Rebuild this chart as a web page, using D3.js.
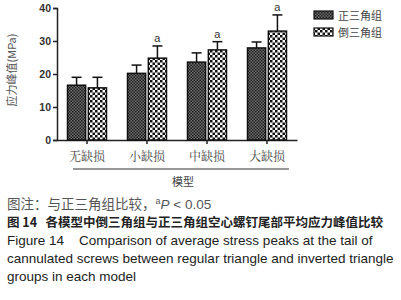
<!DOCTYPE html>
<html><head><meta charset="utf-8">
<script src="https://cdn.jsdelivr.net/npm/d3@7"></script>
<style>body{margin:0;background:#fff;}svg{display:block;}</style>
</head><body>
<script>
const categories = ["无缺损","小缺损","中缺损","大缺损"];
const seriesNames = ["正三角组","倒三角组"];
const regular = [16.6, 20.2, 23.6, 27.9];
const regularErr = [2.4, 2.5, 2.8, 1.8];
const inverted = [15.8, 24.8, 27.3, 33.0];
const invertedErr = [3.2, 3.7, 2.5, 4.9];
const sigMarks = ["", "a", "a", "a"];
const yTicks = [0,10,20,30,40];

const W=401,H=300;
const svg=d3.select("body").append("svg").attr("width",W).attr("height",H);
const defs=svg.append("defs");
const p1=defs.append("pattern").attr("id","pReg").attr("patternUnits","userSpaceOnUse").attr("width",3).attr("height",3);
p1.append("rect").attr("width",3).attr("height",3).attr("fill","#6e6e6e");
p1.append("rect").attr("width",1.5).attr("height",1.5).attr("fill","#1e1e1e");
p1.append("rect").attr("x",1.5).attr("y",1.5).attr("width",1.5).attr("height",1.5).attr("fill","#1e1e1e");
const p2=defs.append("pattern").attr("id","pInv").attr("patternUnits","userSpaceOnUse").attr("width",5).attr("height",5);
p2.append("rect").attr("width",5).attr("height",5).attr("fill","#fff");
p2.append("rect").attr("width",2.5).attr("height",2.5).attr("fill","#111");
p2.append("rect").attr("x",2.5).attr("y",2.5).attr("width",2.5).attr("height",2.5).attr("fill","#111");
const fills=["url(#pReg)","url(#pInv)"];

const x=d3.scaleBand().domain(categories).range([57,297]);
const xs=d3.scaleBand().domain(seriesNames).range([0,39]).paddingInner(0.13);
const y=d3.scaleLinear().domain([0,40]).range([140,8]);

// y axis
const ya=svg.append("g").attr("transform","translate(57,0)")
 .call(d3.axisLeft(y).tickValues(yTicks).tickSize(4).tickPadding(2));
ya.select(".domain").attr("stroke","#222").attr("stroke-width",1.5);
ya.selectAll(".tick line").attr("stroke","#222").attr("stroke-width",1.5);
ya.selectAll("text").attr("font-family","Liberation Sans, Arial").attr("font-weight","bold").attr("font-size",10.5).attr("fill","#333");

// x axis
const xa=svg.append("g").attr("transform","translate(0,140)")
 .call(d3.axisBottom(x).tickSize(4).tickSizeOuter(0).tickFormat(""));
xa.select(".domain").attr("stroke","#222").attr("stroke-width",1.5);
xa.selectAll(".tick line").attr("stroke","#222").attr("stroke-width",1.5);

const data=[regular,inverted], errs=[regularErr,invertedErr];
seriesNames.forEach((s,si)=>{
  categories.forEach((c,ci)=>{
    const bx=x(c)+(x.bandwidth()-39)/2+xs(s), bw=xs.bandwidth();
    const v=data[si][ci], e=errs[si][ci];
    const cx=bx+bw/2;
    svg.append("line").attr("x1",cx).attr("x2",cx).attr("y1",y(v)).attr("y2",y(v+e)).attr("stroke","#111").attr("stroke-width",1.5);
    svg.append("line").attr("x1",cx-5).attr("x2",cx+5).attr("y1",y(v+e)).attr("y2",y(v+e)).attr("stroke","#111").attr("stroke-width",1.5);
    svg.append("rect").attr("x",bx).attr("y",y(v)).attr("width",bw).attr("height",y(0)-y(v))
      .attr("fill",fills[si]).attr("stroke","#111").attr("stroke-width",1.5);
    if(si===1 && sigMarks[ci]){
      svg.append("text").attr("x",cx).attr("y",y(v+e)-4).attr("text-anchor","middle")
        .attr("font-family","Liberation Sans, Arial").attr("font-size",11).attr("fill","#333").text(sigMarks[ci]);
    }
  });
});

// category labels
categories.forEach(c=>{
  svg.append("text").attr("x",x(c)+x.bandwidth()/2).attr("y",161).attr("text-anchor","middle")
   .attr("font-family","Noto Serif CJK SC, Noto Sans CJK SC").attr("font-size",12).attr("fill","#444").text(c);
});
svg.append("line").attr("x1",73).attr("x2",289).attr("y1",169).attr("y2",169).attr("stroke","#333").attr("stroke-width",1.2);
svg.append("text").attr("x",183).attr("y",186).attr("text-anchor","middle")
 .attr("font-family","Noto Sans CJK SC").attr("font-size",11).attr("fill","#444").text("模型");

// y label
svg.append("text").attr("transform","translate(16,70) rotate(-90)").attr("text-anchor","middle")
 .attr("font-family","Noto Sans CJK SC").attr("font-size",11).attr("fill","#555").text("应力峰值(MPa)");

// legend
seriesNames.forEach((s,i)=>{
  const ly=11+i*17;
  svg.append("rect").attr("x",314).attr("y",ly).attr("width",19).attr("height",8).attr("fill",fills[i]).attr("stroke","#111").attr("stroke-width",1.2);
  svg.append("text").attr("x",338).attr("y",ly+8.5).attr("font-family","Noto Sans CJK SC").attr("font-size",11).attr("fill","#444").text(s);
});

// caption
const cap=svg.append("g").attr("font-family","Liberation Sans, Arial");
const t1=cap.append("text").attr("x",7).attr("y",209).attr("font-size",13.5).attr("fill","#555");
t1.append("tspan").attr("font-family","Noto Sans CJK SC").text("图注：与正三角组比较，");
t1.append("tspan").attr("font-size",9).attr("dy",-5).text("a");
t1.append("tspan").attr("dy",5).attr("font-style","italic").text("P");
t1.append("tspan").text(" < 0.05");
cap.append("text").attr("x",7).attr("y",227).attr("font-size",12.5).attr("font-weight","bold").attr("fill","#222")
 .attr("font-family","Noto Sans CJK SC").text("图 14\u00a0\u00a0 各模型中倒三角组与正三角组空心螺钉尾部平均应力峰值比较");
const lines=["Figure 14\u00a0\u00a0\u00a0\u00a0Comparison of average stress peaks at the tail of","cannulated screws between regular triangle and inverted triangle","groups in each model"];
lines.forEach((l,i)=>cap.append("text").attr("x",7).attr("y",245+i*18).attr("font-size",13.5).attr("fill","#222").text(l));
</script>
</body></html>
